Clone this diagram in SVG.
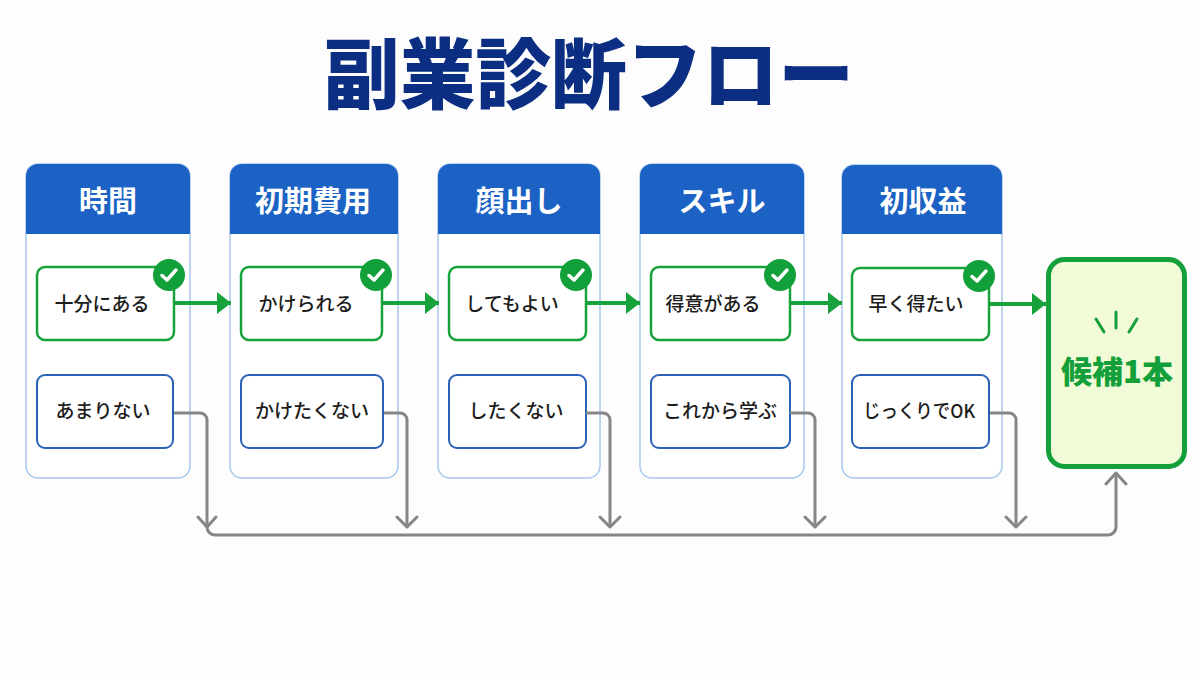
<svg xmlns="http://www.w3.org/2000/svg" width="1200" height="675" viewBox="0 0 1200 675">
<style>
text{font-family:"Noto Sans CJK JP","Noto Sans",sans-serif;text-anchor:middle}
.title{font-size:77px;font-weight:900;fill:#0b2e82}
.head{font-size:29px;font-weight:700;fill:#fff}
.opt{font-size:19px;font-weight:500;fill:#1c1c1c}
.panel{fill:#fff;stroke:#a9c8ee;stroke-width:1.5}
.hd{fill:#1b62c4}
.yes{fill:#fff;stroke:#18a23c;stroke-width:2.5}
.no{fill:#fff;stroke:#2a62b8;stroke-width:2}
.badge{fill:#12a03a}
.tick{fill:none;stroke:#fff;stroke-width:3.5;stroke-linecap:round;stroke-linejoin:round}
.ga{fill:none;stroke:#18a23c;stroke-width:4}
.gr{fill:none;stroke:#868686;stroke-width:3}
.grh{fill:none;stroke:#868686;stroke-width:3;stroke-linecap:round;stroke-linejoin:round}
</style>
<defs>
<marker id="ah" markerUnits="userSpaceOnUse" markerWidth="16" markerHeight="22" refX="14" refY="11" orient="auto"><path d="M0 0L14 11L0 22Z" fill="#18a23c"/></marker>
</defs>
<rect width="1200" height="675" fill="#fdfdfe"/>
<text id="title" class="title" x="589" y="103" textLength="530" lengthAdjust="spacingAndGlyphs">副業診断フロー</text>

<g id="col-time">
<rect class="panel" x="26" y="164" width="164" height="314" rx="12"/>
<path class="hd" d="M26 234V176a12 12 0 0 1 12-12H178a12 12 0 0 1 12 12V234Z"/>
<text class="head" x="108" y="212">時間</text>
<rect class="yes" x="37" y="267" width="137" height="73" rx="8"/>
<text class="opt" x="102" y="311">十分にある</text>
<circle class="badge" cx="169" cy="275" r="16"/><path class="tick" d="M162 275.500L167 280L176 270"/>
<rect class="no" x="37" y="375" width="136" height="73" rx="8"/>
<text class="opt" x="103" y="418">あまりない</text>
</g>
<g id="col-cost">
<rect class="panel" x="230" y="164" width="168" height="314" rx="12"/>
<path class="hd" d="M230 234V176a12 12 0 0 1 12-12H386a12 12 0 0 1 12 12V234Z"/>
<text class="head" x="313" y="212">初期費用</text>
<rect class="yes" x="241" y="267" width="141" height="73" rx="8"/>
<text class="opt" x="306" y="311">かけられる</text>
<circle class="badge" cx="376" cy="275" r="16"/><path class="tick" d="M369 275.500L374 280L383 270"/>
<rect class="no" x="241" y="375" width="142" height="73" rx="8"/>
<text class="opt" x="312" y="418">かけたくない</text>
</g>
<g id="col-face">
<rect class="panel" x="438" y="164" width="162" height="314" rx="12"/>
<path class="hd" d="M438 234V176a12 12 0 0 1 12-12H588a12 12 0 0 1 12 12V234Z"/>
<text class="head" x="519" y="212">顔出し</text>
<rect class="yes" x="449" y="267" width="137" height="73" rx="8"/>
<text class="opt" x="512" y="311">してもよい</text>
<circle class="badge" cx="576" cy="275" r="16"/><path class="tick" d="M569 275.500L574 280L583 270"/>
<rect class="no" x="449" y="375" width="137" height="73" rx="8"/>
<text class="opt" x="516" y="418">したくない</text>
</g>
<g id="col-skill">
<rect class="panel" x="640" y="164" width="164" height="314" rx="12"/>
<path class="hd" d="M640 234V176a12 12 0 0 1 12-12H792a12 12 0 0 1 12 12V234Z"/>
<text class="head" x="722" y="212">スキル</text>
<rect class="yes" x="651" y="267" width="139" height="73" rx="8"/>
<text class="opt" x="713" y="311">得意がある</text>
<circle class="badge" cx="780" cy="275" r="16"/><path class="tick" d="M773 275.500L778 280L787 270"/>
<rect class="no" x="651" y="375" width="139" height="73" rx="8"/>
<text class="opt" x="720" y="418">これから学ぶ</text>
</g>
<g id="col-income">
<rect class="panel" x="842" y="165" width="160" height="313" rx="12"/>
<path class="hd" d="M842 234V177a12 12 0 0 1 12-12H990a12 12 0 0 1 12 12V234Z"/>
<text class="head" x="923" y="212">初収益</text>
<rect class="yes" x="852" y="268" width="137" height="72" rx="8"/>
<text class="opt" x="916" y="311">早く得たい</text>
<circle class="badge" cx="979" cy="276" r="16"/><path class="tick" d="M972 276.500L977 281L986 271"/>
<rect class="no" x="852" y="375" width="137" height="73" rx="8"/>
<text class="opt" x="919" y="418" textLength="112" lengthAdjust="spacingAndGlyphs">じっくりでOK</text>
</g>
<g id="result">
<rect x="1048.500" y="259.500" width="136" height="207" rx="16" fill="#f2fbd8" stroke="#13a03a" stroke-width="5"/>
<path d="M1116 312V328M1096 319L1104 332M1137 319L1129 332" fill="none" stroke="#13a03a" stroke-width="3" stroke-linecap="round"/>
<text x="1117" y="383" font-size="31" font-weight="900" fill="#13a03a">候補1本</text>
</g>
<g id="connectors">
<path class="ga" marker-end="url(#ah)" d="M174 303H231"/>
<path class="ga" marker-end="url(#ah)" d="M383 303H439"/>
<path class="ga" marker-end="url(#ah)" d="M586 303H640"/>
<path class="ga" marker-end="url(#ah)" d="M790 303H842"/>
<path class="ga" marker-end="url(#ah)" d="M989 304H1046"/>
<path class="gr" d="M174 413H200a7 7 0 0 1 7 7V527"/>
<path class="gr" d="M384 413H400a7 7 0 0 1 7 7V527"/>
<path class="gr" d="M586 413H603a7 7 0 0 1 7 7V527"/>
<path class="gr" d="M790 413H808a7 7 0 0 1 7 7V527"/>
<path class="gr" d="M990 413H1009a7 7 0 0 1 7 7V527"/>
<path class="gr" d="M207 527a8 8 0 0 0 8 8H1108a8 8 0 0 0 8-8V473"/>
<path class="grh" d="M198 517L207 527L216 517M397 517L407 527L417 517M600 517L610 527L620 517M805 517L815 527L825 517M1006 517L1016 527L1026 517M1106 484L1116 473L1126 484"/>
</g>
</svg>
